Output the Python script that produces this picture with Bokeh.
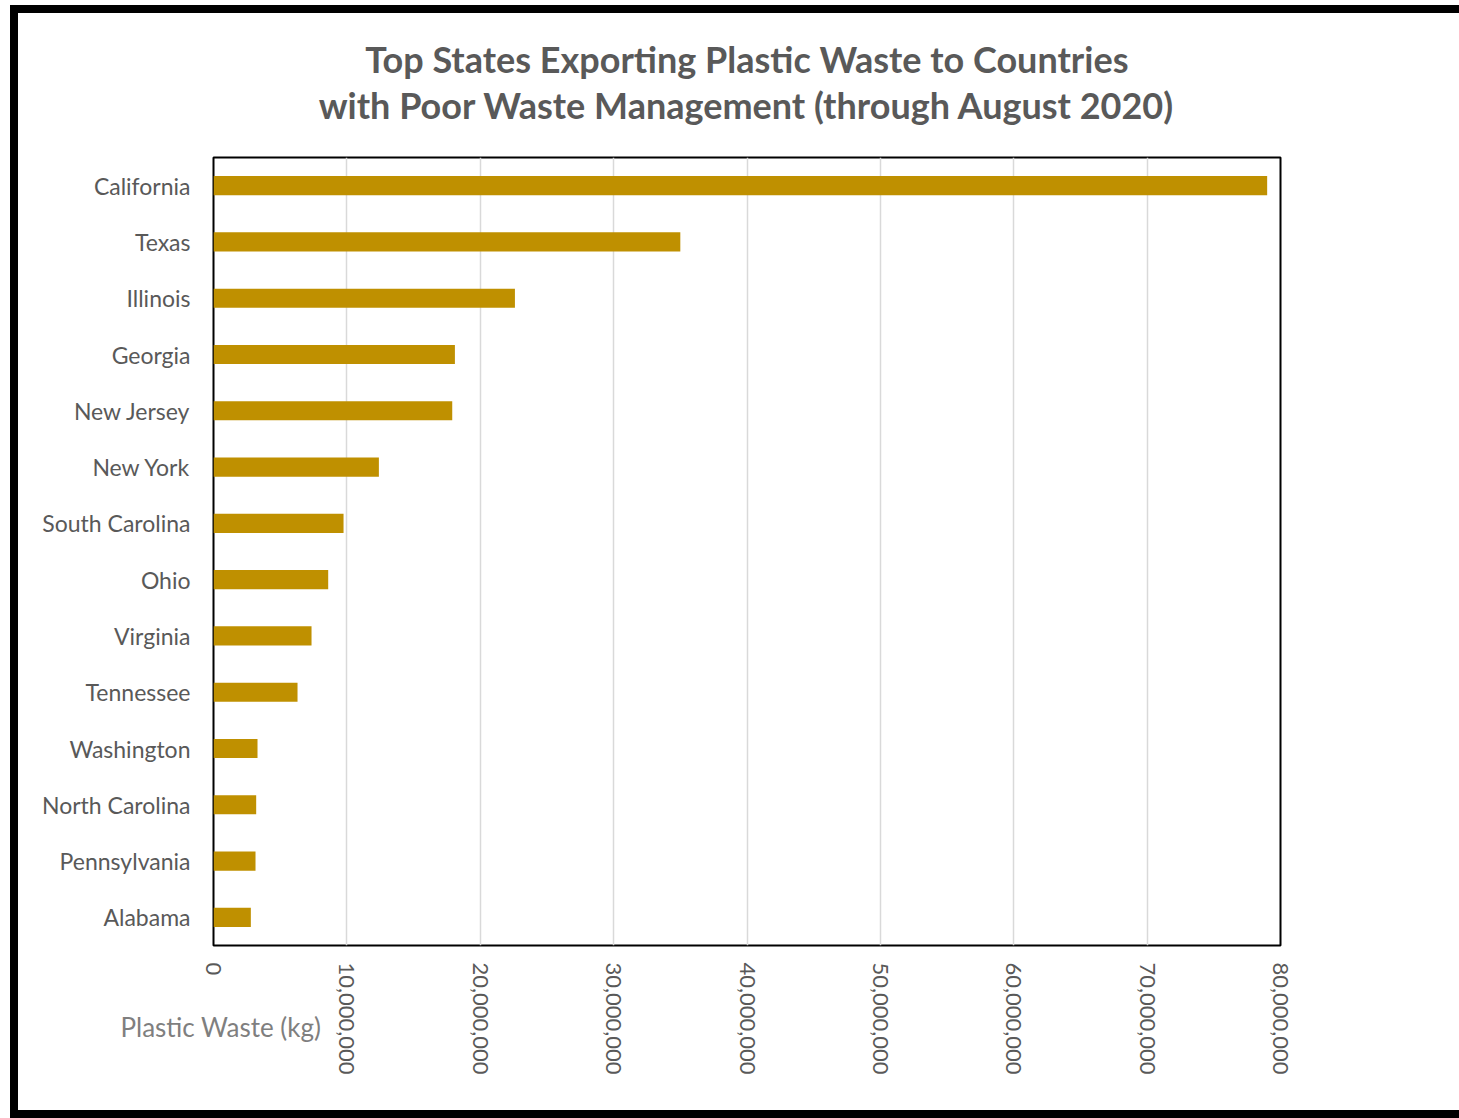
import math
from bokeh.plotting import figure
from bokeh.models import FactorRange, Range1d, NumeralTickFormatter, FixedTicker, Title
from bokeh.embed import file_html
from bokeh.resources import INLINE

states = ["California", "Texas", "Illinois", "Georgia", "New Jersey", "New York",
          "South Carolina", "Ohio", "Virginia", "Tennessee", "Washington",
          "North Carolina", "Pennsylvania", "Alabama"]
waste_kg = [79_000_000, 35_000_000, 22_600_000, 18_100_000, 17_900_000, 12_400_000,
            9_750_000, 8_600_000, 7_350_000, 6_300_000, 3_300_000,
            3_200_000, 3_150_000, 2_800_000]
x_ticks = [0, 10_000_000, 20_000_000, 30_000_000, 40_000_000, 50_000_000,
           60_000_000, 70_000_000, 80_000_000]
title_lines = ["Top States Exporting Plastic Waste to Countries",
               "with Poor Waste Management (through August 2020)"]
x_title = "Plastic Waste (kg)"

FONT = "Lato"
GREY = "#595959"
BAR = "#BF9000"

p = figure(
    y_range=FactorRange(factors=list(reversed(states)), range_padding=0),
    x_range=Range1d(0, 80_000_000),
    frame_width=1067, frame_height=788,
    min_border_left=195, min_border_right=179,
    min_border_top=144, min_border_bottom=165,
    output_backend="svg", toolbar_location=None,
    background_fill_color="white", border_fill_color="white",
)
p.styles = {"margin-left": "10px", "margin-top": "5px",
            "border-top": "8px solid black", "border-left": "8px solid black",
            "border-bottom": "8px solid black"}

p.hbar(y=states, right=waste_kg, left=0, height=0.34, color=BAR, line_color=None)

p.outline_line_color = "black"
p.outline_line_width = 2

p.xgrid.grid_line_color = "#D9D9D9"
p.xgrid.grid_line_width = 1.5
p.ygrid.grid_line_color = None

p.xaxis.ticker = FixedTicker(ticks=x_ticks)
p.xaxis.formatter = NumeralTickFormatter(format="0,0")
p.xaxis.major_label_orientation = -math.pi / 2
p.xaxis.axis_line_color = None
p.xaxis.major_tick_line_color = None
p.xaxis.minor_tick_line_color = None
p.xaxis.major_label_standoff = 11
p.xaxis.major_label_text_font = FONT
p.xaxis.major_label_text_font_size = "22px"
p.xaxis.major_label_text_color = GREY

p.yaxis.axis_line_color = None
p.yaxis.major_tick_line_color = None
p.yaxis.minor_tick_line_color = None
p.yaxis.major_label_standoff = 17
p.yaxis.major_label_text_font = FONT
p.yaxis.major_label_text_font_size = "23px"
p.yaxis.major_label_text_color = GREY

# Two-line heading: figure title is the outer (first) line
p.title.text = title_lines[0]
p.title.align = "center"
p.title.text_font = FONT
p.title.text_font_style = "bold"
p.title.text_font_size = "36px"
p.title.text_color = GREY
p.title.standoff = -62
p.add_layout(Title(text=title_lines[1], align="center", text_font=FONT,
                   text_font_style="bold", text_font_size="36px",
                   text_color=GREY, standoff=62), "above")

# Axis title at lower left, pulled up beside the tick labels
p.add_layout(Title(text=x_title, align="left", offset=-93, standoff=-134,
                   vertical_align="top",
                   text_font=FONT, text_font_style="normal",
                   text_font_size="26px", text_color="#7F7F7F"), "below")

open("out.html", "w").write(file_html(p, INLINE))
